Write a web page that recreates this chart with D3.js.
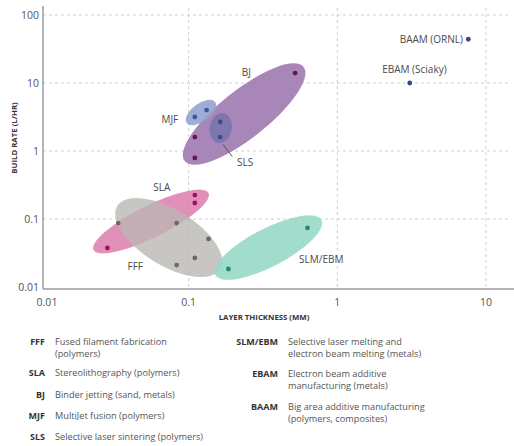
<!DOCTYPE html>
<html>
<head>
<meta charset="utf-8">
<script src="https://cdn.jsdelivr.net/npm/d3@7"></script>
<style>
  body { margin: 0; background: #fff; }
  text { font-family: "Open Sans", "DejaVu Sans", sans-serif; }
</style>
</head>
<body>
<div id="chart"></div>
<script>
// tick values
var xTicks = [0.01, 0.1, 1, 10],
    yTicks = [0.01, 0.1, 1, 10, 100],
    xTickLabels = ["0.01", "0.1", "1", "10"],
    yTickLabels = ["0.01", "0.1", "1", "10", "100"];

// one entry per dot: process, layer thickness (mm), build rate (L/hr)
var pointProcess   = ["BJ", "BJ", "BJ", "MJF", "MJF", "SLS", "SLS",
                      "SLA", "SLA", "SLA", "FFF", "FFF", "FFF", "FFF", "FFF",
                      "SLM/EBM", "SLM/EBM", "EBAM", "BAAM"];
var pointThickness = [0.52, 0.11, 0.11, 0.11, 0.132, 0.163, 0.163,
                      0.11, 0.11, 0.0284, 0.0336, 0.083, 0.136, 0.11, 0.083,
                      0.185, 0.63, 3.07, 7.6];
var pointRate      = [14, 1.6, 0.79, 3.16, 4.0, 2.67, 1.6,
                      0.225, 0.172, 0.0375, 0.087, 0.087, 0.051, 0.0267, 0.021,
                      0.0184, 0.074, 10, 44];

// range ellipses: ends of the long axis in data units
var ellipseProcess = ["SLA", "FFF", "SLM/EBM", "BJ", "MJF", "SLS"];
var ellipseFrom    = [[0.0229, 0.035], [0.0331, 0.155], [0.151, 0.015], [0.094, 0.71], [0.097, 2.58], [0.158, 1.31]];
var ellipseTo      = [[0.136, 0.241], [0.163, 0.0184], [0.782, 0.0966], [0.593, 17.2], [0.151, 5.25], [0.171, 3.62]];

// chart labels, anchored in data units
var labelText      = ["BJ", "MJF", "SLS", "SLA", "FFF", "SLM/EBM", "EBAM (Sciaky)", "BAAM (ORNL)"];
var labelThickness = [0.244, 0.0747, 0.24, 0.066, 0.0437, 0.78, 3.3, 7.0];
var labelRate      = [14.5, 2.86, 0.667, 0.295, 0.0203, 0.0258, 16, 44];

// legend
var legendAbbr  = ["FFF", "SLA", "BJ", "MJF", "SLS", "SLM/EBM", "EBAM", "BAAM"];
var legendLines = [["Fused filament fabrication", "(polymers)"],
                   ["Stereolithography (polymers)"],
                   ["Binder jetting (sand, metals)"],
                   ["MultiJet fusion (polymers)"],
                   ["Selective laser sintering (polymers)"],
                   ["Selective laser melting and", "electron beam melting (metals)"],
                   ["Electron beam additive", "manufacturing (metals)"],
                   ["Big area additive manufacturing", "(polymers, composites)"]];

var fills = { "BJ": "#a27cb2", "MJF": "#94a4cf", "SLS": "#7673ad", "SLA": "#dc7cad",
              "FFF": "#b9b6b2", "SLM/EBM": "#98d8c6" },
    fillOpacity = { "BJ": 0.92, "MJF": 0.9, "SLS": 0.85, "SLA": 0.85, "FFF": 0.78, "SLM/EBM": 0.9 },
    halfWidth = { "BJ": 24, "MJF": 9, "SLS": 11, "SLA": 16, "FFF": 28, "SLM/EBM": 19 },
    dotColors = { "BJ": "#5a1859", "MJF": "#3b5898", "SLS": "#3b4d8a", "SLA": "#a3105c",
                  "FFF": "#6b6966", "SLM/EBM": "#1f8d72", "EBAM": "#2b4a80", "BAAM": "#4b3d80" };

var width = 514, height = 446,
    left = 43, bottom = 289;

var svg = d3.select("#chart").append("svg")
    .attr("width", width)
    .attr("height", height);

var x = d3.scaleLog().domain([0.01, 10]).range([40, 486]),
    y = d3.scaleLog().domain([0.01, 100]).range([287, 15]);

// dashed grid
svg.append("g").selectAll("line")
  .data(yTicks.slice(1))
  .enter().append("line")
    .attr("x1", left).attr("x2", 510)
    .attr("y1", function(d) { return y(d); })
    .attr("y2", function(d) { return y(d); })
    .attr("stroke", "#cfcfcf")
    .attr("stroke-dasharray", "3,3");

svg.append("g").selectAll("line")
  .data(xTicks.slice(1))
  .enter().append("line")
    .attr("x1", function(d) { return x(d); })
    .attr("x2", function(d) { return x(d); })
    .attr("y1", 8).attr("y2", bottom)
    .attr("stroke", "#cfcfcf")
    .attr("stroke-dasharray", "3,3");

// ellipses
svg.append("g").selectAll("ellipse")
  .data(ellipseProcess)
  .enter().append("ellipse")
    .each(function(d, i) {
      var x1 = x(ellipseFrom[i][0]), y1 = y(ellipseFrom[i][1]),
          x2 = x(ellipseTo[i][0]), y2 = y(ellipseTo[i][1]);
      var cx = (x1 + x2) / 2, cy = (y1 + y2) / 2,
          rx = Math.sqrt((x2 - x1) * (x2 - x1) + (y2 - y1) * (y2 - y1)) / 2,
          ang = Math.atan2(y2 - y1, x2 - x1) * 180 / Math.PI;
      d3.select(this)
        .attr("cx", 0).attr("cy", 0)
        .attr("rx", rx).attr("ry", halfWidth[d])
        .attr("transform", "translate(" + cx + "," + cy + ") rotate(" + ang + ")");
    })
    .attr("fill", function(d) { return fills[d]; })
    .attr("fill-opacity", function(d) { return fillOpacity[d]; });

// leader line from SLS ellipse to its label
svg.append("line")
  .attr("x1", x(0.17)).attr("y1", y(1.25))
  .attr("x2", x(0.196)).attr("y2", y(0.83))
  .attr("stroke", "#555")
  .attr("stroke-width", 1);

// dots
svg.append("g").selectAll("circle")
  .data(pointProcess)
  .enter().append("circle")
    .attr("cx", function(d, i) { return x(pointThickness[i]); })
    .attr("cy", function(d, i) { return y(pointRate[i]); })
    .attr("r", 2.4)
    .attr("fill", function(d) { return dotColors[d]; });

// labels on the chart
svg.append("g").selectAll("text")
  .data(labelText)
  .enter().append("text")
    .text(function(d) { return d; })
    .attr("x", function(d, i) { return x(labelThickness[i]); })
    .attr("y", function(d, i) { return y(labelRate[i]); })
    .attr("dy", "0.35em")
    .attr("text-anchor", function(d) { return d === "BAAM (ORNL)" ? "end" : "middle"; })
    .attr("font-size", 10)
    .attr("fill", "#4a4a4a");

// axes
svg.append("line")
  .attr("x1", left).attr("x2", left).attr("y1", 6).attr("y2", bottom)
  .attr("stroke", "#9a9a9a").attr("stroke-width", 1.5);
svg.append("line")
  .attr("x1", left).attr("x2", width).attr("y1", bottom).attr("y2", bottom)
  .attr("stroke", "#9a9a9a").attr("stroke-width", 1.5);

svg.append("g").selectAll("text")
  .data(yTicks)
  .enter().append("text")
    .text(function(d, i) { return yTickLabels[i]; })
    .attr("x", 39)
    .attr("y", function(d) { return y(d); })
    .attr("dy", "0.35em")
    .attr("text-anchor", "end")
    .attr("font-size", 10.5)
    .attr("fill", "#555");

svg.append("g").selectAll("text")
  .data(xTicks)
  .enter().append("text")
    .text(function(d, i) { return xTickLabels[i]; })
    .attr("x", function(d, i) { return i === 0 ? 47 : x(d); })
    .attr("y", 302)
    .attr("dy", "0.35em")
    .attr("text-anchor", "middle")
    .attr("font-size", 10.5)
    .attr("fill", "#555");

svg.append("text")
  .text("LAYER THICKNESS (MM)")
  .attr("x", 264).attr("y", 320)
  .attr("text-anchor", "middle")
  .attr("font-size", 7.8)
  .attr("font-weight", "bold")
  .attr("fill", "#333");

svg.append("text")
  .text("BUILD RATE (L/HR)")
  .attr("transform", "translate(17,138) rotate(-90)")
  .attr("text-anchor", "middle")
  .attr("font-size", 7.8)
  .attr("font-weight", "bold")
  .attr("fill", "#333");

// legend, two columns
var legendX = [45, 45, 45, 45, 45, 278, 278, 278],
    legendY = [342, 373, 395, 416, 437, 342, 374, 407];

var leg = svg.append("g").selectAll("g")
  .data(legendAbbr)
  .enter().append("g")
    .attr("transform", function(d, i) { return "translate(" + legendX[i] + "," + legendY[i] + ")"; });

leg.append("text")
  .text(function(d) { return d; })
  .attr("text-anchor", "end")
  .attr("dy", "0.35em")
  .attr("font-size", 9)
  .attr("font-weight", "bold")
  .attr("fill", "#333");

leg.append("text")
  .attr("font-size", 9.2)
  .attr("fill", "#555")
  .selectAll("tspan")
  .data(function(d, i) { return legendLines[i]; })
  .enter().append("tspan")
    .attr("x", 10)
    .attr("y", function(d, i) { return i * 12; })
    .attr("dy", "0.35em")
    .text(function(d) { return d; });
</script>
</body>
</html>
